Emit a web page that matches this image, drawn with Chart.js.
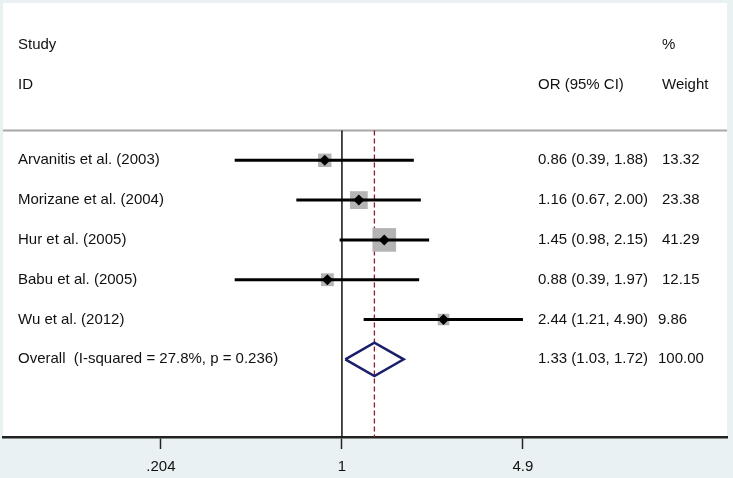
<!DOCTYPE html>
<html>
<head>
<meta charset="utf-8">
<script src="https://cdn.jsdelivr.net/npm/chart.js@4.4.1/dist/chart.umd.min.js"></script>
<style>
  html, body { margin: 0; padding: 0; background: #eaf1f3; }
  #wrap { width: 733px; height: 478px; position: relative; }
</style>
</head>
<body>
<div id="wrap"><canvas id="forest"></canvas></div>
<script>
// study data
const studies = ['Arvanitis et al. (2003)', 'Morizane et al. (2004)', 'Hur et al. (2005)', 'Babu et al. (2005)', 'Wu et al. (2012)'];
const estimates = [0.86, 1.16, 1.45, 0.88, 2.44];
const lower = [0.39, 0.67, 0.98, 0.39, 1.21];
const upper = [1.88, 2.00, 2.15, 1.97, 4.90];
const weights = [13.32, 23.38, 41.29, 12.15, 9.86];

// pooled estimate
const overallLabel = 'Overall  (I-squared = 27.8%, p = 0.236)';
const overall = { est: 1.33, lo: 1.03, hi: 1.72, weight: 100.00 };

// axis
const tickValues = [0.204, 1, 4.9];
const tickLabels = ['.204', '1', '4.9'];

const fmt = v => v.toFixed(2);
const overallRow = studies.length;
const FAMILY = '"Liberation Sans", Arial, sans-serif';
const FONT = '15px ' + FAMILY;

// datasets built from the arrays (lower order = drawn on top)
const datasets = [];

// header rule
datasets.push({
    type: 'line', order: 6, data: [{ x: 0.01, y: -0.75 }, { x: 100, y: -0.75 }],
    borderColor: '#a8a8a8', borderWidth: 2, pointRadius: 0
});

// line of no effect
datasets.push({
    type: 'line', order: 5, data: [{ x: 1, y: -0.75 }, { x: 1, y: 20 }],
    borderColor: '#111', borderWidth: 1.5, pointRadius: 0
});

// pooled estimate line
datasets.push({
    type: 'line', order: 5, data: [{ x: overall.est, y: -0.75 }, { x: overall.est, y: 20 }],
    borderColor: '#8b1a2a', borderWidth: 1.3, borderDash: [5, 3], pointRadius: 0
});

// weight squares
datasets.push({
    type: 'scatter', order: 4,
    data: estimates.map((e, i) => ({ x: e, y: i })),
    pointStyle: 'rect',
    pointRadius: weights.map(w => Math.sqrt(w) * 2.6),
    backgroundColor: '#b4b4b4', borderColor: '#b4b4b4', borderWidth: 0
});

// confidence intervals
studies.forEach((s, i) => {
    datasets.push({
        type: 'line', order: 3,
        data: [{ x: lower[i], y: i }, { x: upper[i], y: i }],
        borderColor: '#000', borderWidth: 3, pointRadius: 0
    });
});

// point estimates
datasets.push({
    type: 'scatter', order: 1,
    data: estimates.map((e, i) => ({ x: e, y: i })),
    pointStyle: 'rectRot', pointRadius: 5.5,
    backgroundColor: '#000', borderColor: '#000', borderWidth: 0
});

// overall diamond
const dh = 0.42;
datasets.push({
    type: 'line', order: 1,
    data: [
        { x: overall.lo, y: overallRow },
        { x: overall.est, y: overallRow - dh },
        { x: overall.hi, y: overallRow },
        { x: overall.est, y: overallRow + dh },
        { x: overall.lo, y: overallRow }
    ],
    borderColor: '#1b1f6b', borderWidth: 2.5, pointRadius: 0, tension: 0,
    borderJoinStyle: 'miter'
});

// background + text columns
const forestPlugin = {
    id: 'forestText',
    beforeDraw(chart) {
        const { ctx, chartArea: a } = chart;
        ctx.save();
        ctx.fillStyle = '#eaf1f3';
        ctx.fillRect(0, 0, chart.width, chart.height);
        ctx.fillStyle = '#ffffff';
        ctx.fillRect(a.left, a.top, a.right - a.left, a.bottom - a.top);
        ctx.restore();
    },
    afterDatasetsDraw(chart) {
        const { ctx } = chart;
        const ys = chart.scales.y;
        ctx.save();
        ctx.font = FONT;
        ctx.fillStyle = '#111';
        ctx.textBaseline = 'middle';
        ctx.textAlign = 'left';
        ctx.fillText('Study', 18, ys.getPixelForValue(-2.9));
        ctx.fillText('ID', 18, ys.getPixelForValue(-1.9));
        ctx.fillText('OR (95% CI)', 538, ys.getPixelForValue(-1.9));
        ctx.fillText('%', 662, ys.getPixelForValue(-2.9));
        ctx.fillText('Weight', 662, ys.getPixelForValue(-1.9));
        studies.forEach((s, i) => {
            const y = ys.getPixelForValue(i);
            ctx.fillText(s, 18, y);
            ctx.fillText(fmt(estimates[i]) + ' (' + fmt(lower[i]) + ', ' + fmt(upper[i]) + ')', 538, y);
            ctx.fillText(fmt(weights[i]), weights[i] < 10 ? 658 : 662, y);
        });
        const yo = ys.getPixelForValue(overallRow);
        ctx.fillText(overallLabel, 18, yo);
        ctx.fillText(fmt(overall.est) + ' (' + fmt(overall.lo) + ', ' + fmt(overall.hi) + ')', 538, yo);
        ctx.fillText(overall.weight.toFixed(2), 658, yo);
        ctx.restore();
    }
};

new Chart(document.getElementById('forest'), {
    type: 'scatter',
    data: { datasets: datasets },
    options: {
        responsive: true,
        maintainAspectRatio: false,
        animation: false,
        layout: { autoPadding: false, padding: { left: 3, right: 6, top: 3, bottom: -7 } },
        plugins: { legend: { display: false }, tooltip: { enabled: false } },
        scales: {
            x: {
                type: 'logarithmic',
                min: 0.051,
                max: 29.4,
                afterBuildTicks(axis) {
                    axis.ticks = tickValues.map(v => ({ value: v }));
                },
                ticks: {
                    autoSkip: false,
                    maxRotation: 0,
                    color: '#111',
                    padding: 9,
                    font: { family: FAMILY, size: 15 },
                    callback: (v) => tickLabels[tickValues.indexOf(v)]
                },
                grid: { drawOnChartArea: false, drawTicks: true, tickLength: 12, color: '#222', tickWidth: 1.5 },
                border: { display: true, color: '#222', width: 2.5 }
            },
            y: {
                type: 'linear',
                display: false,
                reverse: true,
                min: -3.95,
                max: 6.95
            }
        }
    },
    plugins: [forestPlugin]
});
</script>
</body>
</html>
